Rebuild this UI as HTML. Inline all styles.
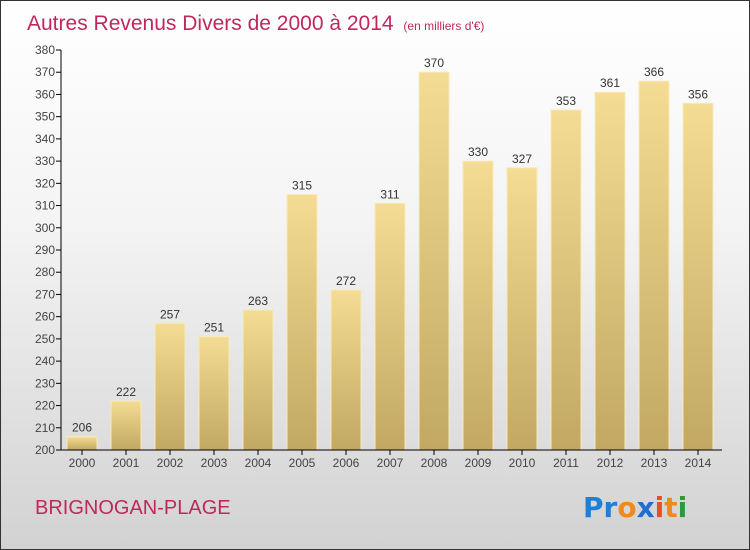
<!DOCTYPE html>
<html><head><meta charset="utf-8"><style>
body{margin:0}
#c{position:relative;width:748px;height:548px;border:1px solid #333;background:linear-gradient(#ffffff 0%,#f4f4f4 40%,#d2d2d2 100%);font-family:"Liberation Sans",sans-serif;overflow:hidden}
</style></head><body>
<div id="c">
<svg id="s" width="748" height="548">
<defs><linearGradient id="g" x1="0" y1="0" x2="0" y2="1"><stop offset="0" stop-color="#f4dc94"/><stop offset="1" stop-color="#c2a862"/></linearGradient></defs>
<text x="26" y="29" font-size="21" fill="#c0285a">Autres Revenus Divers de 2000 à 2014 <tspan font-size="12" dx="4">(en milliers d'€)</tspan></text>
<text x="34" y="513" font-size="20" fill="#c0285a">BRIGNOGAN-PLAGE</text>
<g font-size="28" font-weight="bold" font-family="'DejaVu Sans',sans-serif">
<text x="582" y="516"><tspan fill="#1e7fd6">Pr</tspan><tspan fill="#f08a1c">o</tspan><tspan fill="#1e6fd0">x</tspan><tspan fill="#e8501c">i</tspan><tspan fill="#f08a1c">t</tspan><tspan fill="#2a9a3a">i</tspan></text></g>
<g id="plot"></g>
</svg></div>
<script>
const years=["2000","2001","2002","2003","2004","2005","2006","2007","2008","2009","2010","2011","2012","2013","2014"];
const values=[206,222,257,251,263,315,272,311,370,330,327,353,361,366,356];
const yTicks=[200,210,220,230,240,250,260,270,280,290,300,310,320,330,340,350,360,370,380];
const NS="http://www.w3.org/2000/svg",p=document.getElementById('plot');
const y=v=>449-(v-200)*(400/180), x=i=>81+i*44;
function el(t,a,txt){const e=document.createElementNS(NS,t);for(const k in a)e.setAttribute(k,a[k]);if(txt!=null)e.textContent=txt;p.appendChild(e);return e;}
values.forEach((v,i)=>{
 const r=el('rect',{x:x(i)-15,y:y(v),width:30,height:449-y(v),fill:'url(#g)',stroke:'#f8eab8','stroke-width':1});
 
 
 const t=el('text',{x:x(i),y:y(v)-5,'font-size':12,fill:'#333','text-anchor':'middle'},v);
 
 
 const xl=el('text',{x:x(i),y:466,'font-size':12,fill:'#444','text-anchor':'middle'},years[i]);
 
 
 el('line',{x1:x(i),x2:x(i),y1:449,y2:454,stroke:'#000'});
});
yTicks.forEach(v=>{
 el('line',{x1:55,x2:60,y1:y(v),y2:y(v),stroke:'#000'});
 const t=el('text',{x:54,y:y(v)+4,'font-size':12,fill:'#444','text-anchor':'end'},v);
 
 
});
const ya=el('line',{x1:60,x2:60,y1:y(380),y2:449,stroke:'#000'});


const xa=el('line',{x1:60,x2:721,y1:449,y2:449,stroke:'#000'});


</script>
</body></html>
